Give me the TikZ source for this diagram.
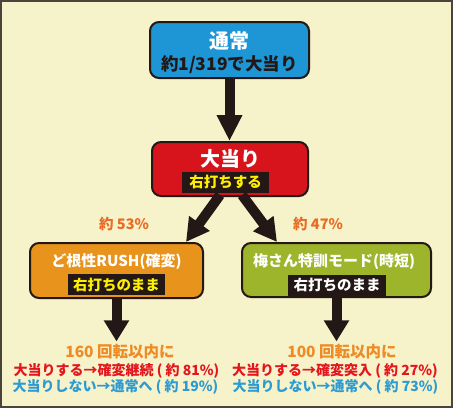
\documentclass[tikz,border=0pt]{standalone}
\usepackage{fontspec}
\setmainfont{Noto Sans CJK JP}
\usetikzlibrary{calc}
\usetikzlibrary{arrows.meta}

\definecolor{paper}{HTML}{F6F2C9}
\definecolor{ink}{HTML}{231815}
\definecolor{framegray}{HTML}{4A443E}
\definecolor{normalblue}{HTML}{1E95D4}
\definecolor{hitred}{HTML}{D7141B}
\definecolor{rushorange}{HTML}{E8931B}
\definecolor{umegreen}{HTML}{9DB52B}
\definecolor{tagyellow}{HTML}{FFF000}
\definecolor{rateorange}{HTML}{EA6B24}
\definecolor{spinorange}{HTML}{EE8B25}
\definecolor{winred}{HTML}{E3161F}
\definecolor{loseblue}{HTML}{2C9BD3}

\begin{document}
\begin{tikzpicture}[x=1pt,y=-1pt,
  modebox/.style={draw=ink, line width=2pt, rounded corners=9pt, inner sep=0pt},
  titletext/.style={text=white, inner sep=0pt, font=\bfseries\fontsize{15}{18}\selectfont},
  tag/.style={fill=ink, text=tagyellow, inner xsep=5pt, inner ysep=0pt,
              minimum height=21pt, font=\bfseries\fontsize{14.5}{17}\selectfont},
  bigarrow/.style={draw=ink, line width=10pt},
  resulttext/.style={inner sep=0pt, font=\bfseries\fontsize{14}{16}\selectfont}]


 %% paper and frame
  \useasboundingbox (0,0) rectangle (453,408);
  \coordinate (frame/nw) at (1,1);
  \coordinate (frame/se) at (451.5,407);
  \draw[fill=paper, draw=framegray, line width=2pt] (frame/nw) rectangle (frame/se);

  %% normal mode at the top
  \node[modebox, fill=normalblue, minimum width=159pt, minimum height=56pt] (normal) at (229.5,50) {};
  \node[titletext, font=\bfseries\fontsize{20}{24}\selectfont] (normal/title) at (229.5,41) {通常};
  \node[inner sep=0pt, text=ink, font=\bfseries\fontsize{17.5}{20}\selectfont] (normal/odds) at (229.5,64.5) {約1/319で大当り};

  %% jackpot
  \node[modebox, fill=hitred, minimum width=156pt, minimum height=54pt] (hit) at (230,169) {};
  \node[titletext, font=\bfseries\fontsize{20}{24}\selectfont] (hit/title) at (230,158.5) {大当り};
  \node[tag, minimum width=87pt] (hit/tag) at (225.5,182) {右打ちする};

  %% the two modes after the jackpot
  \node[modebox, fill=rushorange, minimum width=173pt, minimum height=55pt] (rush) at (116.5,270.5) {};
  \node[titletext] (rush/title) at (116.5,262) {ど根性RUSH(確変)};
  \node[tag, minimum width=97pt] (rush/tag) at (116.5,284.5) {右打ちのまま};

  \node[modebox, fill=umegreen, minimum width=189pt, minimum height=54pt] (ume) at (336.5,270) {};
  \node[titletext] (ume/title) at (334,262) {梅さん特訓モード(時短)};
  \node[tag, minimum width=98pt, text=white] (ume/tag) at (337,285) {右打ちのまま};

  %% split rates
  \node[text=rateorange, inner sep=0pt, font=\bfseries\fontsize{14.5}{17}\selectfont] (rate/rush) at (124,224) {約 53\%};
  \node[text=rateorange, inner sep=0pt, font=\bfseries\fontsize{14.5}{17}\selectfont] (rate/ume) at (318,224) {約 47\%};

  %% outcomes below each mode
  \node[resulttext, text=spinorange, font=\bfseries\fontsize{15.5}{18}\selectfont] (rush/spins) at (120,352) {160 回転以内に};
  \node[resulttext, text=winred] (rush/win) at (116.5,371) {大当りする→確変継続 ( 約 81\%)};
  \node[resulttext, text=loseblue] (rush/lose) at (115.5,387) {大当りしない→通常へ ( 約 19\%)};

  \node[resulttext, text=spinorange, font=\bfseries\fontsize{15.5}{18}\selectfont] (ume/spins) at (342,352) {100 回転以内に};
  \node[resulttext, text=winred] (ume/win) at (335,371) {大当りする→確変突入 ( 約 27\%)};
  \node[resulttext, text=loseblue] (ume/lose) at (335.5,387) {大当りしない→通常へ ( 約 73\%)};

  %% thick arrows
  \draw[bigarrow, arrows={-Triangle[width=24pt,length=26pt]}] (normal.south) -- (normal.south |- hit.north);
  \draw[bigarrow, arrows={-Triangle[width=24pt,length=23pt]}] ($(hit.south)+(-10,-2)$) -- ($(rush.north east)+(-18,0)$);
  \draw[bigarrow, arrows={-Triangle[width=24pt,length=23pt]}] ($(hit.south)+(12,-2)$) -- ($(ume.north west)+(36,0)$);
  \draw[bigarrow, arrows={-Triangle[width=24pt,length=21pt]}] (rush.south) -- ($(rush.south |- rush/spins.north)+(0,-3)$);
  \draw[bigarrow, arrows={-Triangle[width=24pt,length=21pt]}] (ume.south) -- ($(ume.south |- ume/spins.north)+(0,-3)$);

\end{tikzpicture}
\end{document}
